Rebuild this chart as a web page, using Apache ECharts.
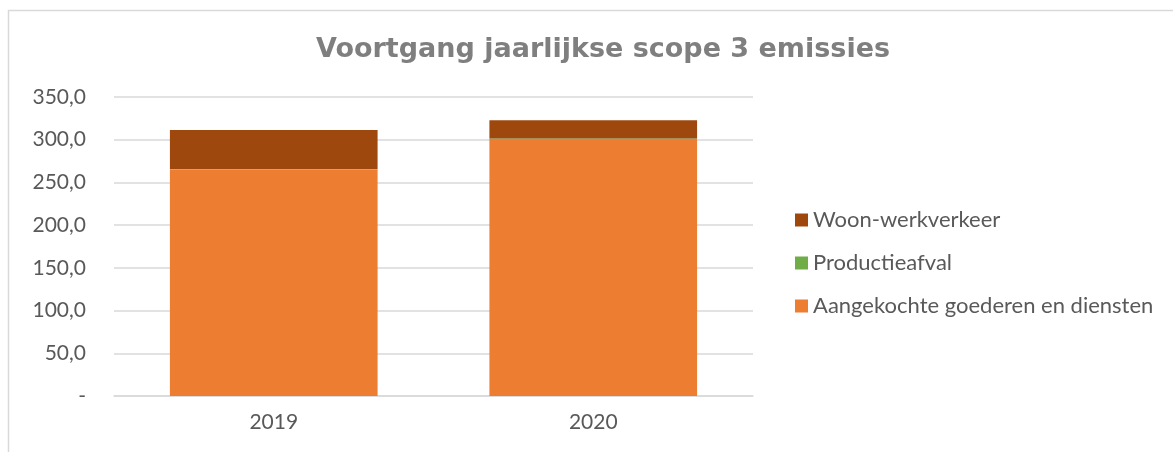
<!DOCTYPE html>
<html>
<head>
<meta charset="utf-8">
<script src="https://cdn.jsdelivr.net/npm/echarts@6/dist/echarts.min.js"></script>
<style>
  html, body { margin: 0; padding: 0; background: #fff; }
  #chart { width: 1173px; height: 452px; }
</style>
</head>
<body>
<div id="chart"></div>
<script>
const years = ["2019", "2020"];
const aangekocht = [265.2, 300.7];
const productieafval = [0.6, 0.6];
const woonwerk = [45.6, 21.6];
const yTicks = [0, 50, 100, 150, 200, 250, 300, 350];

const myChart = echarts.init(document.getElementById("chart"));
myChart.setOption({
  animation: false,
  graphic: [
    {
      type: "rect",
      shape: { x: 8.5, y: 10.5, width: 1200, height: 500 },
      style: { fill: "none", stroke: "#d9d9d9", lineWidth: 1.5 },
      silent: true
    }
  ],
  title: {
    text: "Voortgang jaarlijkse scope 3 emissies",
    left: 598,
    textAlign: "center",
    top: 31,
    textStyle: {
      fontFamily: "DejaVu Sans",
      fontWeight: "bold",
      fontSize: 27,
      color: "#7f7f7f"
    }
  },
  legend: {
    orient: "vertical",
    left: 790,
    top: 204,
    itemGap: 21,
    itemWidth: 13,
    itemHeight: 13,
    icon: "rect",
    data: ["Woon-werkverkeer", "Productieafval", "Aangekochte goederen en diensten"],
    textStyle: { fontFamily: "Lato", fontSize: 22, color: "#595959", padding: [0, 0, 0, 0] }
  },
  grid: { left: 114, right: 420, top: 97, bottom: 56 },
  xAxis: {
    type: "category",
    data: years,
    axisLine: { lineStyle: { color: "#d9d9d9", width: 1.5 } },
    axisTick: { show: false },
    axisLabel: { fontFamily: "Lato", fontSize: 21, color: "#595959", margin: 16 }
  },
  yAxis: {
    type: "value",
    min: 0,
    max: 350,
    interval: 50,
    axisLine: { show: false },
    axisTick: { show: false },
    splitLine: { lineStyle: { color: "#d9d9d9", width: 1.5 } },
    axisLabel: {
      fontFamily: "Lato",
      fontSize: 21,
      color: "#595959",
      margin: 28,
      formatter: function (v) {
        return v === 0 ? "-" : v.toFixed(1).replace(".", ",");
      }
    }
  },
  series: [
    {
      name: "Aangekochte goederen en diensten",
      type: "bar",
      stack: "total",
      barWidth: "65%",
      itemStyle: { color: "#ed7d31" },
      data: aangekocht
    },
    {
      name: "Productieafval",
      type: "bar",
      stack: "total",
      itemStyle: { color: "#70ad47" },
      data: productieafval
    },
    {
      name: "Woon-werkverkeer",
      type: "bar",
      stack: "total",
      itemStyle: { color: "#9e480e" },
      data: woonwerk
    }
  ]
});
</script>
</body>
</html>
